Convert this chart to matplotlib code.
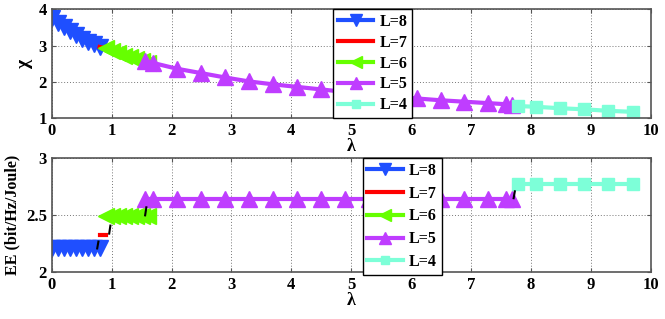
import numpy as np
import matplotlib.pyplot as plt

plt.rcParams['font.family'] = 'Liberation Serif'
plt.rcParams['font.weight'] = 'bold'

# L=8
lam8 = [0.0, 0.1, 0.2, 0.3, 0.4, 0.5, 0.6, 0.7, 0.8]
chi8 = [3.75, 3.62, 3.50, 3.39, 3.29, 3.19, 3.11, 3.03, 2.96]
ee8 = [2.21] * 9
# L=7
lam7 = [0.8, 0.9]
chi7 = [2.96, 2.92]
ee7 = [2.33, 2.33]
# L=6
lam6 = [0.9, 1.0, 1.1, 1.2, 1.3, 1.4, 1.5, 1.6]
chi6 = [2.92, 2.84, 2.78, 2.72, 2.67, 2.62, 2.57, 2.53]
ee6 = [2.49] * 8
# L=5
lam5 = [1.55, 1.69, 2.09, 2.49, 2.89, 3.29, 3.69, 4.09, 4.49, 4.89, 5.29,
        5.69, 6.09, 6.49, 6.89, 7.29, 7.59, 7.69]
chi5 = [2.56, 2.52, 2.36, 2.24, 2.12, 2.01, 1.93, 1.86, 1.79, 1.72, 1.66,
        1.60, 1.54, 1.49, 1.45, 1.41, 1.38, 1.37]
ee5 = [2.64] * 18
# L=4
lam4 = [7.78, 8.09, 8.48, 8.89, 9.28, 9.70]
chi4 = [1.33, 1.31, 1.27, 1.24, 1.20, 1.17]
ee4 = [2.775] * 6

# small black transition marks (bottom panel)
mark_x = [0.77, 0.97, 1.57, 7.72]
mark_y0 = [2.21, 2.34, 2.50, 2.65]
mark_y1 = [2.27, 2.41, 2.57, 2.71]

c8 = '#1f4fff'
c7 = '#ff0000'
c6 = '#66ff00'
c5 = '#bf3dff'
c4 = '#7dffd8'

fig = plt.figure(figsize=(6.65, 3.19), dpi=100)
ax1 = fig.add_axes([0.0777, 0.630, 0.901, 0.341])
ax2 = fig.add_axes([0.0777, 0.146, 0.901, 0.358])

def draw(ax, y8, y7, y6, y5, y4):
    ax.plot(lam8, y8, '-v', color=c8, lw=3, ms=11, label='L=8')
    ax.plot(lam7, y7, '-', color=c7, lw=3, label='L=7')
    ax.plot(lam6, y6, '-<', color=c6, lw=3, ms=11, label='L=6')
    ax.plot(lam5, y5, '-^', color=c5, lw=3, ms=11, label='L=5')
    ax.plot(lam4, y4, '-s', color=c4, lw=3, ms=8, label='L=4')
    ax.set_xlim(0, 10)
    ax.set_xticks(range(0, 11))
    ax.grid(True, color='#777777', linestyle=(0, (1, 2)), linewidth=0.7)
    for s in ax.spines.values():
        s.set_color('#555555')
        s.set_linewidth(1.2)
    ax.tick_params(labelsize=12, length=3, color='#555555', direction='in',
                   top=True, right=True)
    for t in ax.get_xticklabels() + ax.get_yticklabels():
        t.set_fontweight('bold')

legend_kw = dict(loc='upper left', fontsize=11.5, handlelength=2.2,
                 fancybox=False, edgecolor='black', framealpha=1,
                 borderpad=0.3, handletextpad=0.4,
                 borderaxespad=0, markerscale=0.8)

draw(ax1, chi8, chi7, chi6, chi5, chi4)
ax1.set_ylim(1, 4)
ax1.set_yticks([1, 2, 3, 4])
for t in ax1.get_yticklabels():
    t.set_fontweight('bold')
ax1.set_ylabel('χ', fontsize=14, fontweight='bold', labelpad=4)
ax1.set_xlabel('λ', fontsize=13, fontweight='bold', labelpad=-1)
ax1.legend(bbox_to_anchor=(0.47, 1.0), labelspacing=0.3, **legend_kw)

draw(ax2, ee8, ee7, ee6, ee5, ee4)
for x, a, b in zip(mark_x, mark_y0, mark_y1):
    ax2.plot([x - 0.01, x + 0.01], [a, b], color='black', lw=1.5)
ax2.set_ylim(2, 3)
ax2.set_yticks([2, 2.5, 3])
ax2.set_yticklabels(['2', '2.5', '3'])
for t in ax2.get_yticklabels():
    t.set_fontweight('bold')
ax2.set_ylabel('EE (bit/Hz/Joule)', fontsize=11.5, fontweight='bold', labelpad=4)
ax2.set_xlabel('λ', fontsize=13, fontweight='bold', labelpad=-1)
ax2.legend(bbox_to_anchor=(0.519, 1.0), labelspacing=0.42, **legend_kw)

fig.savefig('out.png', dpi=100)
